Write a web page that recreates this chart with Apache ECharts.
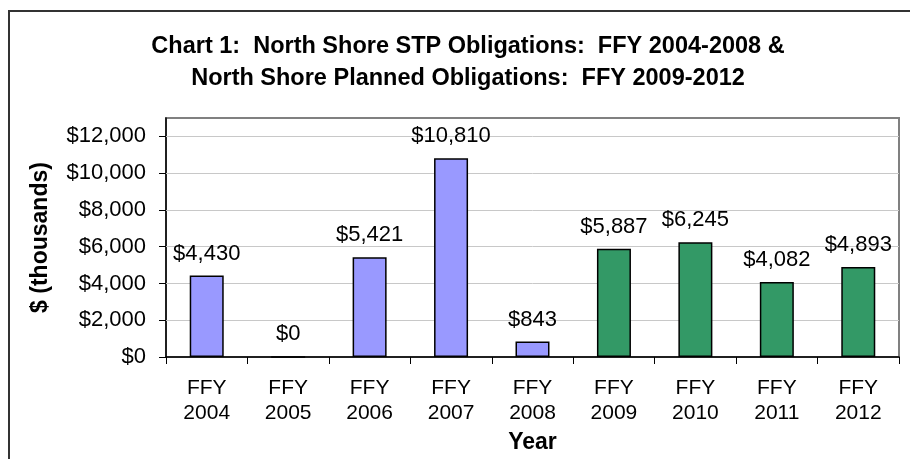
<!DOCTYPE html>
<html>
<head>
<meta charset="utf-8">
<script src="https://cdn.jsdelivr.net/npm/echarts@6/dist/echarts.min.js"></script>
<style>
  html, body { margin: 0; padding: 0; background: #fff; }
  #main { width: 910px; height: 459px; }
</style>
</head>
<body>
<div id="main"></div>
<script>
const years = ["2004", "2005", "2006", "2007", "2008", "2009", "2010", "2011", "2012"];
// STP obligations FFY 2004-2008 ($ thousands)
const obligations = [4430, 0, 5421, 10810, 843, "-", "-", "-", "-"];
// planned obligations FFY 2009-2012
const planned = ["-", "-", "-", "-", "-", 5887, 6245, 4082, 4893];
const yTicks = [0, 2000, 4000, 6000, 8000, 10000, 12000];

const font = "'Liberation Sans', Arial, sans-serif";
const money = (v) => "$" + Number(v).toLocaleString("en-US");

function barSeries(name, data, color) {
  return {
    name,
    type: "bar",
    z: 3,
    data,
    barWidth: 34,
    barGap: "-100%",
    itemStyle: { color, borderColor: "#000", borderWidth: 1.5 },
    label: {
      show: true,
      position: "top",
      distance: 11,
      color: "#000",
      fontFamily: font,
      fontSize: 22,
      formatter: (p) => money(p.value)
    }
  };
}

const options = {
  animation: false,
  backgroundColor: "#fff",
  title: {
    text: "Chart 1:  North Shore STP Obligations:  FFY 2004-2008 &\nNorth Shore Planned Obligations:  FFY 2009-2012",
    left: 463,
    top: 26,
    textAlign: "center",
    textStyle: {
      fontFamily: font,
      fontSize: 23.5,
      fontWeight: "bold",
      lineHeight: 32,
      color: "#000"
    }
  },
  grid: {
    left: 166,
    right: 11,
    top: 118,
    bottom: 102,
    show: true,
    borderColor: "#808080",
    borderWidth: 2
  },
  xAxis: {
    type: "category",
    data: years,
    name: "Year",
    nameLocation: "middle",
    nameGap: 72,
    nameTextStyle: { fontFamily: font, fontSize: 23, fontWeight: "bold", color: "#000" },
    axisLine: { lineStyle: { color: "#000", width: 1.5 } },
    axisTick: { show: true, length: 7, lineStyle: { color: "#000" } },
    axisLabel: {
      interval: 0,
      margin: 19,
      fontFamily: font,
      fontSize: 21,
      lineHeight: 25,
      color: "#000",
      formatter: (v) => "FFY\n" + v
    }
  },
  yAxis: {
    type: "value",
    min: 0,
    max: 13000,
    interval: 1000,
    name: "$ (thousands)",
    nameLocation: "middle",
    nameRotate: 90,
    nameGap: 114,
    nameTextStyle: { fontFamily: font, fontSize: 23, fontWeight: "bold", color: "#000" },
    axisLine: { show: true, lineStyle: { color: "#000", width: 1.5 } },
    axisTick: { show: true, length: 7, lineStyle: { color: "#000" }, customValues: yTicks },
    axisLabel: {
      margin: 20,
      fontFamily: font,
      fontSize: 22,
      color: "#000",
      customValues: yTicks,
      formatter: (v) => money(v)
    },
    splitLine: { show: false }
  },
  graphic: [
    {
      type: "rect",
      silent: true,
      shape: { x: 9, y: 11, width: 930, height: 470 },
      style: { fill: null, stroke: "#333", lineWidth: 2 }
    }
  ],
  series: [
    {
      // gridlines at the labelled ticks only, kept behind the bars
      type: "line",
      z: 1,
      data: [],
      silent: true,
      markLine: {
        silent: true,
        z: 1,
        symbol: "none",
        label: { show: false },
        lineStyle: { color: "#c8c8c8", width: 1, type: "solid" },
        data: yTicks.slice(1).map((v) => ({ yAxis: v }))
      }
    },
    barSeries("Obligations", obligations, "#9999FF"),
    barSeries("Planned", planned, "#339966")
  ]
};

const chart = echarts.init(document.getElementById("main"));
chart.setOption(options);
window.onresize = function () {
  chart.resize();
};
</script>
</body>
</html>
